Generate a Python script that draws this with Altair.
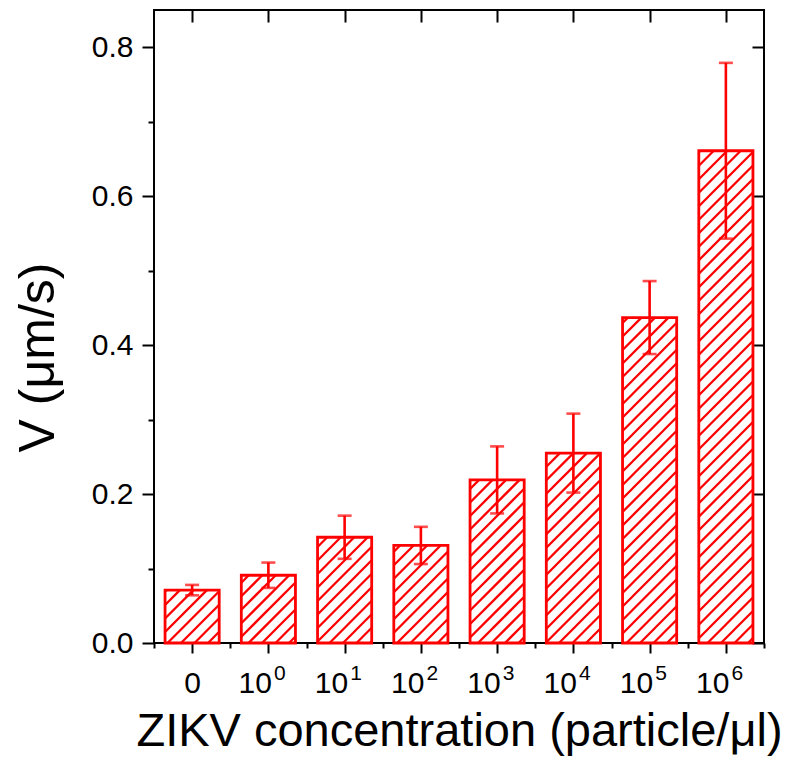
import json
import math
import altair as alt
import pandas as pd

# ---- data ----
categories = ["0", "10^0", "10^1", "10^2", "10^3", "10^4", "10^5", "10^6"]
base_labels = ["0", "10", "10", "10", "10", "10", "10", "10"]
exponents = ["", "0", "1", "2", "3", "4", "5", "6"]
values = [0.071, 0.091, 0.142, 0.131, 0.219, 0.255, 0.437, 0.661]
errors = [0.007, 0.017, 0.029, 0.025, 0.045, 0.053, 0.049, 0.118]

y_major = [0.0, 0.2, 0.4, 0.6, 0.8]
y_minor = [0.1, 0.3, 0.5, 0.7]

# ---- layout / style ----
W, H = 610, 633
YMAX = 0.85
HALF = 0.355          # half bar width, in category units
RED = "#ff0000"
FONT = "Liberation Sans"
n = len(categories)
positions = list(range(n))
x_minor = [p - 0.5 for p in positions] + [n - 0.5]

df = pd.DataFrame({"pos": positions, "label": categories, "v": values, "e": errors})
df["x1"] = df["pos"] - HALF
df["x2"] = df["pos"] + HALF
df["lo"] = df["v"] - df["e"]
df["hi"] = df["v"] + df["e"]

# ---- hatch lines (45 deg) clipped to each bar, built from the values ----
ppx = W / n
ppy = H / YMAX
S = 13.5
rows = []
for i, v in enumerate(values):
    bw = 2 * HALF * ppx
    bh = v * ppy
    x0 = (i - HALF + 0.5) * ppx
    kmin = math.ceil((-bw - x0) / S)
    kmax = math.floor((bh - x0) / S)
    for k in range(kmin, kmax + 1):
        c = x0 + k * S
        xs = max(0.0, -c)
        xe = min(bw, bh - c)
        if xe - xs > 0.3:
            rows.append({
                "hx": (x0 + xs) / ppx - 0.5, "hy": (xs + c) / ppy,
                "hx2": (x0 + xe) / ppx - 0.5, "hy2": (xe + c) / ppy,
            })
hatch_df = pd.DataFrame(rows)

xscale = alt.Scale(domain=[-0.5, n - 0.5], nice=False, zero=False)
yscale = alt.Scale(domain=[0, YMAX], nice=False, zero=False)

base_expr = json.dumps(base_labels) + "[datum.value]"
exp_expr = json.dumps(exponents) + "[datum.value]"

hatch = alt.Chart(hatch_df).mark_rule(color=RED, strokeWidth=2.3).encode(
    x=alt.X("hx:Q", scale=xscale, axis=alt.Axis(
        orient="bottom", values=x_minor, tickSize=5, tickWidth=2, tickColor="black",
        labels=False, domain=False, grid=False, title=None)),
    x2="hx2:Q",
    y=alt.Y("hy:Q", scale=yscale, axis=alt.Axis(
        orient="left", values=y_minor, tickSize=6, tickWidth=2, tickColor="black",
        labels=False, domain=False, grid=False, title=None)),
    y2="hy2:Q",
)

bars = alt.Chart(df).mark_rect(fill="transparent", stroke=RED, strokeWidth=2.8).encode(
    x=alt.X("x1:Q", scale=xscale, axis=alt.Axis(
        orient="bottom", values=positions, labelExpr=base_expr,
        tickSize=10, tickWidth=2, tickColor="black", domain=False, grid=False,
        labelFontSize=30, labelBaseline="alphabetic", labelPadding=39,
        labelAlign={"condition": {"test": "datum.value == 0", "value": "center"}, "value": "right"},
        labelOffset={"condition": {"test": "datum.value == 0", "value": 0}, "value": 3},
        title="ZIKV concentration (particle/μl)", titleFontSize=47,
        titleY=102, titleBaseline="alphabetic")),
    x2="x2:Q",
    y=alt.Y("v:Q", scale=yscale, axis=alt.Axis(
        orient="left", values=y_major, format=".1f",
        tickSize=12, tickWidth=2, tickColor="black", domain=False, grid=False,
        labelFontSize=30, labelPadding=9,
        title="V (μm/s)", titleFontSize=50, titleAngle=270,
        titleX=-101, titleY=347, titleBaseline="alphabetic", titleAlign="center")),
    y2=alt.datum(0),
)

err = alt.Chart(df).mark_rule(color=RED, strokeWidth=2.6).encode(
    x=alt.X("pos:Q", scale=xscale, axis=alt.Axis(
        orient="top", values=positions, tickSize=12, tickWidth=2, tickColor="black",
        offset=-12, labels=False, domain=False, grid=False, title=None)),
    y=alt.Y("lo:Q", scale=yscale, axis=alt.Axis(
        orient="right", values=y_major, tickSize=12, tickWidth=2, tickColor="black",
        offset=-12, labels=False, domain=False, grid=False, title=None)),
    y2="hi:Q",
)

caps = alt.Chart(df).transform_fold(["lo", "hi"], as_=["end", "val"]).mark_tick(
    color=RED, orient="horizontal", size=14, thickness=2.6
).encode(
    x=alt.X("pos:Q", scale=xscale, axis=alt.Axis(
        orient="bottom", values=positions[1:], labelExpr=exp_expr,
        ticks=False, domain=False, grid=False, labelFontSize=21,
        labelBaseline="alphabetic", labelAlign="left", labelOffset=5,
        labelPadding=36, title=None)),
    y=alt.Y("val:Q", scale=yscale, axis=None),
)

chart = alt.layer(hatch, bars, err, caps).resolve_axis(
    x="independent", y="independent"
).properties(
    width=W, height=H,
    autosize=alt.AutoSizeParams(type="none"),
    padding={"left": 146, "top": 2, "right": 19, "bottom": 120},
).configure_view(
    stroke="black", strokeWidth=2
).configure_axis(
    labelFont=FONT, titleFont=FONT, labelColor="black", titleColor="black",
    titleFontWeight="normal",
)

chart.save("out.html", embed_options={"renderer": "svg", "actions": False})
